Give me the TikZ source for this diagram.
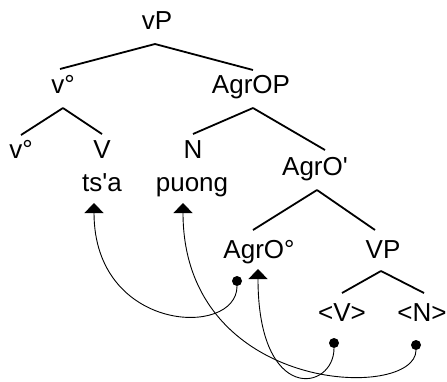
\documentclass[tikz,border=0pt]{standalone}
\usepackage{fontspec}
\setmainfont{Liberation Sans}[Ligatures=TeXOff]
\usetikzlibrary{arrows.meta,calc}
\begin{document}
\begin{tikzpicture}[x=1pt,y=-1pt,
  lbl/.style={anchor=base,inner sep=0pt,font=\fontsize{26}{30}\selectfont},
  branch/.style={line width=1.8pt},
  move/.style={line width=0.9pt,-{Triangle[width=19pt,length=10pt]}},
  dot/.style={circle,fill,inner sep=0pt,minimum size=10pt}]
\useasboundingbox (0,0) rectangle (447,381);
% labels
\node[lbl] (vP) at (157,29) {vP};
\node[lbl] (v1) at (63,93) {v°};
\node[lbl] (AgrOP) at (251,93) {AgrOP};
\node[lbl] (v2) at (21,158) {v°};
\node[lbl] (V) at (102,158) {V};
\node[lbl] (N) at (193,158) {N};
\node[lbl] (AgrOb) at (315,175) {AgrO'};
\node[lbl] (tsa) at (102,191) {ts'a};
\node[lbl] (puong) at (192,191) {puong};
\node[lbl] (AgrOdeg) at (259,258) {AgrO°};
\node[lbl] (VP) at (383,258) {VP};
\node[lbl] (Vt) at (342,321) {<V>};
\node[lbl] (Nt) at (422,321) {<N>};
% branches
\draw[branch] ([xshift=-2pt,yshift=-15pt]vP.base) -- ([xshift=-3pt,yshift=24pt]v1.base);
\draw[branch] ([xshift=-2pt,yshift=-15pt]vP.base) -- ([xshift=2pt,yshift=23pt]AgrOP.base);
\draw[branch] ([yshift=-15pt]v1.base) -- ([yshift=23pt]v2.base);
\draw[branch] ([yshift=-15pt]v1.base) -- ([yshift=24pt]V.base);
\draw[branch] ([xshift=2pt,yshift=-15pt]AgrOP.base) -- ([yshift=24pt]N.base);
\draw[branch] ([xshift=2pt,yshift=-15pt]AgrOP.base) -- ([xshift=10pt,yshift=25pt]AgrOb.base);
\draw[branch] ([xshift=2pt,yshift=-15pt]AgrOb.base) -- ([xshift=-6pt,yshift=28pt]AgrOdeg.base);
\draw[branch] ([xshift=2pt,yshift=-15pt]AgrOb.base) -- ([xshift=-8pt,yshift=28pt]VP.base);
\draw[branch] ([xshift=-2pt,yshift=-13pt]VP.base) -- ([yshift=28pt]Vt.base);
\draw[branch] ([xshift=-2pt,yshift=-13pt]VP.base) -- ([xshift=2pt,yshift=28pt]Nt.base);
% movement
\node[dot] (d1) at (237,281) {};
\node[dot] (d2) at (334,343) {};
\node[dot] (d3) at (416,345) {};
\coordinate (t1) at (94,203);
\coordinate (t2) at (183,203);
\coordinate (t3) at (258,269);
\draw[move] (d1) .. controls ($(d1)+(0,57)$) and ($(t1)+(0,130)$) .. (t1);
\draw[move] (d2) .. controls ($(d2)+(0,48)$) and ($(t3)+(0,136)$) .. (t3);
\draw[move] (d3) .. controls ($(d3)+(0,56)$) and ($(t2)+(0,192)$) .. (t2);
\end{tikzpicture}
\end{document}
